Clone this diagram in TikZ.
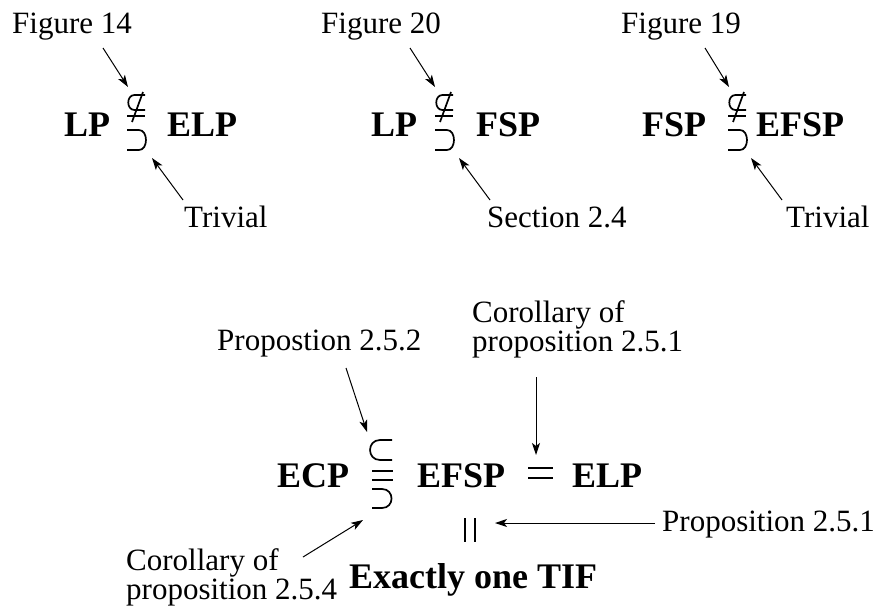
\documentclass[tikz,border=0pt]{standalone}
\usepackage{fontspec}
\setmainfont{Liberation Serif}
\usetikzlibrary{arrows.meta}
\begin{document}
\begin{tikzpicture}[x=1pt,y=-1pt,
  lbl/.style={anchor=base west, inner sep=0pt, font=\fontsize{31}{29}\selectfont, align=left},
  setname/.style={anchor=base west, inner sep=0pt, font=\fontsize{36}{40}\selectfont\bfseries},
  ptr/.style={line width=1pt, -{Stealth[length=12pt,width=8pt,inset=3pt]}},
  sym/.style={line width=1.7pt},
  pics/notsub/.style={code={
    \draw[sym] (18,0) -- (7.5,0) .. controls (-0.8,0) and (-0.8,15) .. (7.5,15) -- (18,15);
    \draw[sym] (16,-3) -- (5,27);
    \draw[sym] (0,21) -- (18,21);
    \draw[sym] (0,35) -- (12,35) .. controls (21.3,35) and (21.3,55) .. (12,55) -- (0,55);
  }},
  pics/subeq/.style={code={
    \draw[sym] (22,0) -- (10,0) .. controls (-3.3,0) and (-3.3,20) .. (10,20) -- (22,20);
    \draw[sym] (2,31) -- (23,31);
    \draw[sym] (2,40) -- (23,40);
    \draw[sym] (2,49) -- (12,49) .. controls (24.7,49) and (24.7,68) .. (12,68) -- (2,68);
  }}
]
\useasboundingbox (0,0) rectangle (882,605);

% ---- panel 1 ----
\node[lbl] (f14) at (12,33) {Figure 14};
\node[setname] (lp1) at (64,136) {LP};
\node[setname] (elp1) at (167,136) {ELP};
\pic at (127,95) {notsub};
\node[lbl] (triv1) at (184,227) {Trivial};
\coordinate (s1a) at (103,48); \coordinate (t1a) at (128,87);
\coordinate (s1b) at (183,200); \coordinate (t1b) at (152,158);
\draw[ptr] (s1a) -- (t1a);
\draw[ptr] (s1b) -- (t1b);

% ---- panel 2 ----
\node[lbl] (f20) at (321,33) {Figure 20};
\node[setname] (lp2) at (371,136) {LP};
\node[setname] (fsp2) at (476,136) {FSP};
\pic at (435,95) {notsub};
\node[lbl] (sec) at (487,227) {Section 2.4};
\coordinate (s2a) at (410,48); \coordinate (t2a) at (435,87);
\coordinate (s2b) at (490,200); \coordinate (t2b) at (459,158);
\draw[ptr] (s2a) -- (t2a);
\draw[ptr] (s2b) -- (t2b);

% ---- panel 3 ----
\node[lbl] (f19) at (621,33) {Figure 19};
\node[setname] (fsp3) at (642,136) {FSP};
\node[setname] (efsp3) at (756,136) {EFSP};
\pic at (728,95) {notsub};
\node[lbl] (triv3) at (786,227) {Trivial};
\coordinate (s3a) at (705,48); \coordinate (t3a) at (729,87);
\coordinate (s3b) at (782,200); \coordinate (t3b) at (751,158);
\draw[ptr] (s3a) -- (t3a);
\draw[ptr] (s3b) -- (t3b);

% ---- bottom ----
\node[lbl] (p252) at (217,350) {Propostion 2.5.2};
\node[lbl] (c251) at (472,351) {Corollary of\\proposition 2.5.1};
\node[setname] (ecp) at (277,487) {ECP};
\pic at (370,440) {subeq};
\node[setname] (efsp) at (417,487) {EFSP};
\draw[line width=2.8pt] (528,468) -- (553,468) (528,478) -- (553,478);
\node[setname] (elp) at (572,487) {ELP};
\draw[line width=2pt] (465,518) -- (465,542) (475,518) -- (475,542);
\node[lbl] (p251) at (662,531) {Proposition 2.5.1};
\node[lbl] (c254) at (126,599) {Corollary of\\proposition 2.5.4};
\node[setname] (tif) at (349,588) {Exactly one TIF};

\coordinate (s4) at (346,368); \coordinate (t4) at (367,432);
\coordinate (s5) at (536,377); \coordinate (t5) at (536,455);
\coordinate (s6) at (655,523); \coordinate (t6) at (495,523);
\coordinate (s7) at (303,557); \coordinate (t7) at (363,520);
\draw[ptr] (s4) -- (t4);
\draw[ptr] (s5) -- (t5);
\draw[ptr] (s6) -- (t6);
\draw[ptr] (s7) -- (t7);
\end{tikzpicture}
\end{document}
